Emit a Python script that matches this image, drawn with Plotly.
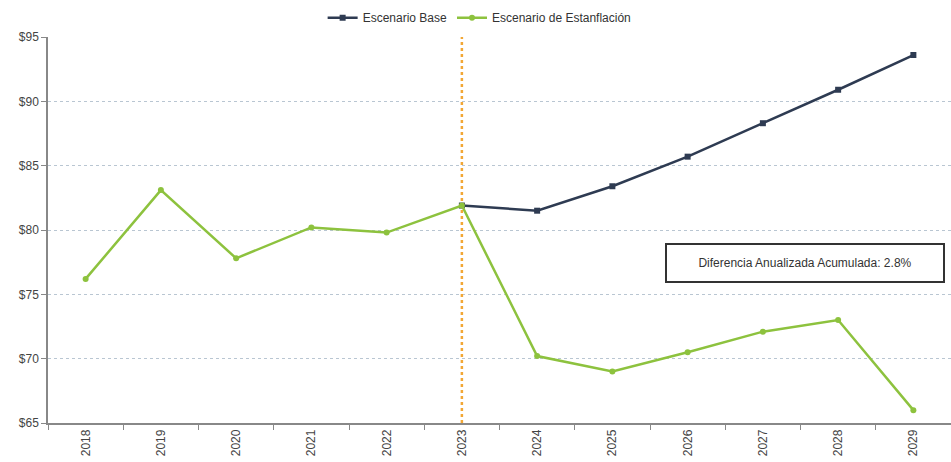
import plotly.graph_objects as go

years = ["2018", "2019", "2020", "2021", "2022", "2023", "2024", "2025", "2026", "2027", "2028", "2029"]
base_years = ["2023", "2024", "2025", "2026", "2027", "2028", "2029"]
base_values = [81.9, 81.5, 83.4, 85.7, 88.3, 90.9, 93.6]
stag_values = [76.2, 83.1, 77.8, 80.2, 79.8, 81.9, 70.2, 69.0, 70.5, 72.1, 73.0, 66.0]
y_ticks = [65, 70, 75, 80, 85, 90, 95]
y_tick_labels = ["$65", "$70", "$75", "$80", "$85", "$90", "$95"]
divider_year = "2023"
note_text = "Diferencia Anualizada Acumulada: 2.8%"

fig = go.Figure()

# vertical dotted divider drawn as a trace on the category axis
fig.add_trace(go.Scatter(
    x=[divider_year, divider_year], y=[y_ticks[0], y_ticks[-1]], mode="lines",
    line=dict(color="#f2a735", width=2.5, dash="dot"),
    showlegend=False, hoverinfo="skip",
))
fig.add_trace(go.Scatter(
    x=base_years, y=base_values, name="Escenario Base", mode="lines+markers",
    line=dict(color="#2e3b52", width=2.5),
    marker=dict(symbol="square", size=6, color="#2e3b52"),
))
fig.add_trace(go.Scatter(
    x=years, y=stag_values, name="Escenario de Estanflación", mode="lines+markers",
    line=dict(color="#8dc23e", width=2.5),
    marker=dict(symbol="circle", size=6, color="#8dc23e"),
))

fig.add_annotation(
    xref="paper", yref="y", x=0.838, y=77.4, xanchor="center", yanchor="middle",
    text=note_text, showarrow=False,
    font=dict(family="Liberation Sans, Arial, sans-serif", size=12, color="#333333"),
    bordercolor="#333333", borderwidth=2, borderpad=3, width=270, height=30,
    bgcolor="white", align="center",
)

fig.update_layout(
    width=951, height=462,
    margin=dict(l=48, r=0, t=37, b=39),
    paper_bgcolor="white", plot_bgcolor="white",
    font=dict(family="Liberation Sans, Arial, sans-serif", size=12, color="#444444"),
    showlegend=True,
    legend=dict(orientation="h", x=0.478, xanchor="center", y=1.05, yanchor="middle",
                font=dict(size=12, color="#333333"), bgcolor="rgba(0,0,0,0)"),
    xaxis=dict(
        type="category", categoryorder="array", categoryarray=years,
        range=[-0.5, len(years) - 0.5],
        tickangle=-90, tickson="boundaries", ticks="outside", ticklen=5,
        tickcolor="#888888", showline=True, linecolor="#888888", linewidth=1.5,
        showgrid=False, automargin=False, tickfont=dict(size=12, color="#444444"),
    ),
    yaxis=dict(
        range=[65, 95], tickmode="array", tickvals=y_ticks, ticktext=y_tick_labels,
        ticks="outside", ticklen=5, tickcolor="#888888",
        showline=True, linecolor="#888888", linewidth=1.5,
        showgrid=True, gridcolor="#b9c6d2", griddash="dot", gridwidth=1,
        zeroline=False, automargin=False, tickfont=dict(size=12, color="#444444"),
    ),
)

fig.write_html("out.html", config={"displayModeBar": False},
               post_script="document.body.style.margin='0';")
